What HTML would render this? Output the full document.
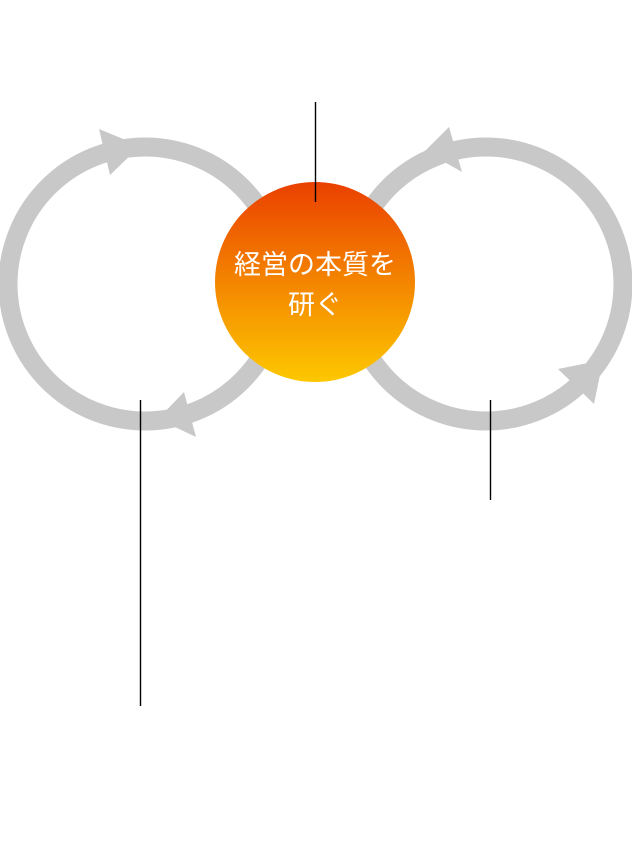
<!DOCTYPE html>
<html><head><meta charset="utf-8"><style>
html,body{margin:0;padding:0;background:#fff;width:632px;height:850px;overflow:hidden}
svg{display:block}
</style></head><body>
<svg width="632" height="850" viewBox="0 0 632 850">
<defs>
<linearGradient id="g" x1="0" y1="0" x2="0" y2="1">
<stop offset="0" stop-color="#ea4000"/>
<stop offset="0.5" stop-color="#f48500"/>
<stop offset="1" stop-color="#fdc800"/>
</linearGradient>
</defs>
<circle cx="145" cy="284" r="137" fill="none" stroke="#c8c8c8" stroke-width="19"/>
<circle cx="486" cy="284" r="137" fill="none" stroke="#c8c8c8" stroke-width="19"/>
<polygon points="99,129 140,146 110,175" fill="#c8c8c8"/>
<polygon points="184,392 158,419 196,437" fill="#c8c8c8"/>
<polygon points="449,127 425,151 462,172" fill="#c8c8c8"/>
<polygon points="558,369 603,360 594,404" fill="#c8c8c8"/>
<circle cx="315" cy="282" r="100" fill="url(#g)"/>
<text x="315" y="274" text-anchor="middle" fill="#fff" font-size="27" font-family="'Liberation Sans','Noto Sans CJK JP',sans-serif">経営の本質を</text>
<text x="315" y="314" text-anchor="middle" fill="#fff" font-size="27" font-family="'Liberation Sans','Noto Sans CJK JP',sans-serif">研ぐ</text>
<line x1="315.5" y1="102" x2="315.5" y2="202" stroke="#000" stroke-width="1.4"/>
<line x1="140.5" y1="400" x2="140.5" y2="706" stroke="#000" stroke-width="1.4"/>
<line x1="490.5" y1="400" x2="490.5" y2="500" stroke="#000" stroke-width="1.4"/>
</svg>
</body></html>
